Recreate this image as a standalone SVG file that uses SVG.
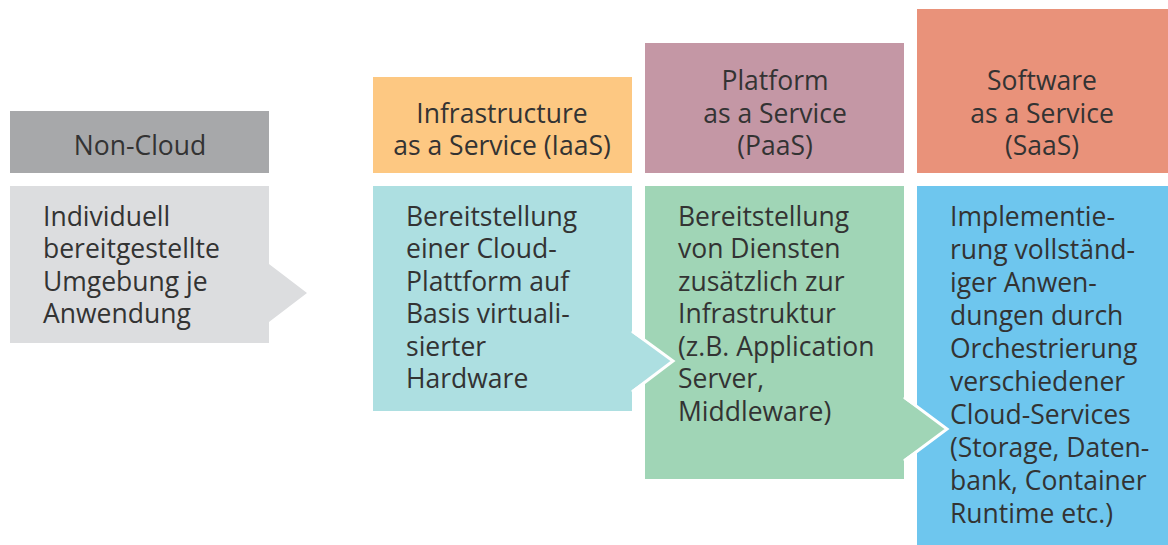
<svg xmlns="http://www.w3.org/2000/svg" width="1168" height="545" viewBox="0 0 1168 545">
  <style>
    text { font-family: "Open Sans", "Liberation Sans", sans-serif; font-size: 26.5px; fill: #333333; }
    .hd { text-anchor: middle; }
    .edge { fill: none; stroke: #ffffff; stroke-width: 3; stroke-linejoin: miter; }
  </style>
  <rect width="1168" height="545" fill="#ffffff"/>

  <g id="noncloud">
    <rect x="10" y="111" width="259" height="62" fill="#a7a8aa"/>
    <text class="hd" x="140" y="155">Non-Cloud</text>
    <polygon points="10,186 269,186 269,264 307,293 269,322 269,343 10,343" fill="#dcdddf"/>
    <text x="43" y="225.5">Individuell</text>
    <text x="43" y="258">bereitgestellte</text>
    <text x="43" y="290.5">Umgebung je</text>
    <text x="43" y="323">Anwendung</text>
  </g>

  <g id="saas">
    <rect x="917" y="9" width="251" height="164" fill="#e9927a"/>
    <text class="hd" x="1042" y="90">Software</text>
    <text class="hd" x="1042" y="122.5">as a Service</text>
    <text class="hd" x="1042" y="155">(SaaS)</text>
    <rect x="917" y="186" width="251" height="359" fill="#6ec6ee"/>
    <text x="950" y="225.5">Implementie-</text>
    <text x="950" y="258.5">rung vollständ-</text>
    <text x="950" y="291.5">iger Anwen-</text>
    <text x="950" y="324.5">dungen durch</text>
    <text x="950" y="357.5">Orchestrierung</text>
    <text x="950" y="390.5">verschiedener</text>
    <text x="950" y="423.5">Cloud-Services</text>
    <text x="950" y="456.5">(Storage, Daten-</text>
    <text x="950" y="489.5">bank, Container</text>
    <text x="950" y="522.5">Runtime etc.)</text>
  </g>

  <g id="paas">
    <rect x="645" y="43" width="259" height="130" fill="#c497a5"/>
    <text class="hd" x="775" y="90">Platform</text>
    <text class="hd" x="775" y="122.5">as a Service</text>
    <text class="hd" x="775" y="155">(PaaS)</text>
    <polygon points="645,186 904,186 904,399 947,429 904,459 904,479 645,479" fill="#a0d5b6"/>
    <polyline class="edge" points="904,397 947,429 904,461"/>
    <text x="678" y="225.5">Bereitstellung</text>
    <text x="678" y="258">von Diensten</text>
    <text x="678" y="290.5">zusätzlich zur</text>
    <text x="678" y="323">Infrastruktur</text>
    <text x="678" y="355.5">(z.B. Application</text>
    <text x="678" y="388">Server,</text>
    <text x="678" y="420.5">Middleware)</text>
  </g>

  <g id="iaas">
    <rect x="373" y="77" width="259" height="96" fill="#fdc882"/>
    <text class="hd" x="502" y="122.5">Infrastructure</text>
    <text class="hd" x="502" y="155">as a Service (IaaS)</text>
    <polygon points="373,186 632,186 632,333 673,361 632,390 632,411 373,411" fill="#addfe1"/>
    <polyline class="edge" points="632,331 673,361 632,392"/>
    <text x="406" y="225.5">Bereitstellung</text>
    <text x="406" y="258">einer Cloud-</text>
    <text x="406" y="290.5">Plattform auf</text>
    <text x="406" y="323">Basis virtuali-</text>
    <text x="406" y="355.5">sierter</text>
    <text x="406" y="388">Hardware</text>
  </g>
</svg>
